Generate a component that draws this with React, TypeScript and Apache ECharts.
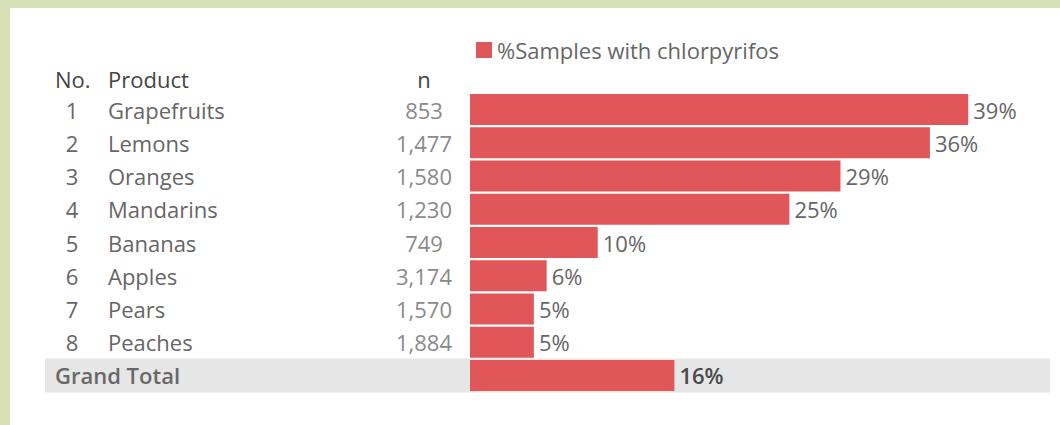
import React, { useEffect, useRef } from "react";
import * as echarts from "echarts";

// Table columns and bar values
const rowNumbers = ["1", "2", "3", "4", "5", "6", "7", "8"];
const products = ["Grapefruits", "Lemons", "Oranges", "Mandarins", "Bananas", "Apples", "Pears", "Peaches"];
const sampleCounts = [853, 1477, 1580, 1230, 749, 3174, 1570, 1884];
const pctWithChlorpyrifos = [39, 36, 29, 25, 10, 6, 5, 5];
const grandTotalLabel = "Grand Total";
const grandTotalPct = 16;
const seriesName = "%Samples with chlorpyrifos";
const headers = { no: "No.", product: "Product", n: "n" };

const FONT = "'Open Sans', 'Noto Sans', sans-serif";
const BAR_RED = "#e15759";

export default function App() {
  const ref = useRef<HTMLDivElement>(null);

  useEffect(() => {
    if (!ref.current) return;
    const chart = echarts.init(ref.current, null, { renderer: "svg" });

    const categories = [...products, grandTotalLabel];
    const values = [
      ...pctWithChlorpyrifos,
      {
        value: grandTotalPct,
        label: { fontWeight: 600, color: "#4a4a4a" },
      },
    ];

    const gridLeft = 470;
    const labelAxis = (
      formatter: (v: string, i: number) => string,
      align: "left" | "center" | "right",
      margin: number,
      extra: Record<string, unknown> = {}
    ) => ({
      type: "category",
      data: categories,
      inverse: true,
      position: "left",
      axisLine: { show: false },
      axisTick: { show: false },
      splitLine: { show: false },
      axisLabel: {
        interval: 0,
        formatter,
        align,
        margin,
        fontFamily: FONT,
        fontSize: 22,
        color: "#666",
        ...extra,
      },
    });

    chart.setOption({
      animation: false,
      backgroundColor: "#d6e0b4",
      textStyle: { fontFamily: FONT },
      legend: {
        data: [seriesName],
        icon: "rect",
        itemWidth: 16,
        itemHeight: 16,
        left: 476,
        top: 39,
        padding: 0,
        selectedMode: false,
        textStyle: { fontFamily: FONT, fontSize: 22, color: "#666" },
      },
      grid: {
        left: gridLeft,
        top: 93,
        width: 511,
        height: 299,
        outerBoundsMode: "none",
      },
      xAxis: { type: "value", min: 0, max: 40, show: false },
      yAxis: [
        labelAxis((_v, i) => rowNumbers[i] ?? "", "center", gridLeft - 72),
        labelAxis((_v, i) => products[i] ?? "", "left", gridLeft - 108),
        labelAxis(
          (_v, i) => (sampleCounts[i] !== undefined ? sampleCounts[i].toLocaleString("en-US") : ""),
          "center",
          gridLeft - 424,
          { color: "#8a8a8a" }
        ),
        labelAxis((v) => (v === grandTotalLabel ? v : ""), "left", gridLeft - 55, {
          fontWeight: 600,
          color: "#686868",
        }),
      ],
      series: [
        {
          name: seriesName,
          type: "bar",
          yAxisIndex: 0,
          data: values,
          barWidth: 31,
          itemStyle: { color: BAR_RED },
          label: {
            show: true,
            position: "right",
            distance: 5,
            formatter: "{c}%",
            fontFamily: FONT,
            fontSize: 22,
            color: "#666",
          },
        },
      ],
    });

    // Panel, total band and column headers, placed from the axis scale
    const totalY = chart.convertToPixel({ yAxisIndex: 0 }, grandTotalLabel) as number;
    const headerY = 79;
    const headerStyle = { fontFamily: FONT, fontSize: 22, fill: "#454545" };
    chart.setOption({
      graphic: {
        elements: [
          { type: "rect", z: -20, shape: { x: 10, y: 8, width: 1050, height: 417 }, style: { fill: "#ffffff" } },
          {
            type: "rect",
            z: -10,
            shape: { x: 45, y: totalY - 17, width: 1005, height: 34 },
            style: { fill: "#e6e6e6" },
          },
          { type: "text", x: 55, y: headerY, style: { ...headerStyle, text: headers.no, verticalAlign: "middle" } },
          { type: "text", x: 108, y: headerY, style: { ...headerStyle, text: headers.product, verticalAlign: "middle" } },
          {
            type: "text",
            x: 424,
            y: headerY,
            style: { ...headerStyle, text: headers.n, align: "center", verticalAlign: "middle" },
          },
        ],
      },
    });

    return () => chart.dispose();
  }, []);

  return (
    <div
      ref={ref}
      style={{ position: "fixed", left: 0, top: 0, width: 1060, height: 425 }}
    />
  );
}
